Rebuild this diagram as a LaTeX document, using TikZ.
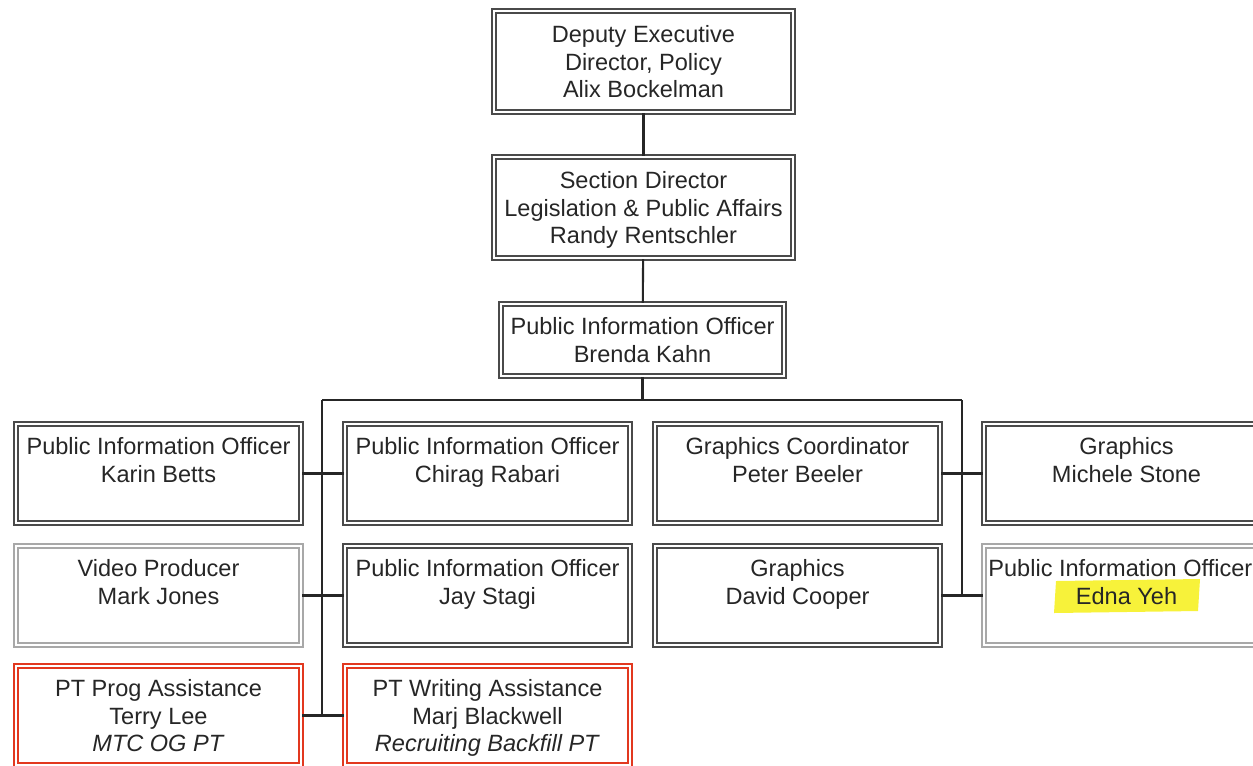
\documentclass[tikz,border=0pt]{standalone}
\usepackage{fontspec}
\setmainfont{Liberation Sans}
\usepackage{tikz}
\usetikzlibrary{positioning}
\usepackage{xcolor}
\definecolor{boxgray}{HTML}{4A4A4A}
\definecolor{palegray}{HTML}{A8A8A8}
\definecolor{ptred}{HTML}{E2381F}
\definecolor{hilite}{HTML}{F7F23A}

\begin{document}
\begin{tikzpicture}[x=0.02cm, y=-0.02cm,
		box/.style={draw=boxgray, double=white, double distance=1.1pt, line width=1.3pt,
			minimum width=5.7cm, minimum height=1.98cm, inner sep=0pt, align=center,
			font=\fontsize{13.4}{15.6}\selectfont, text=black!85, text depth=0pt},
		palebox/.style={box, draw=palegray},
		redbox/.style={box, draw=ptred},
		link/.style={black!85, line width=1.2pt}]
	\useasboundingbox (0,0) rectangle (1253,765);
	\clip (0,0) rectangle (1253,765);
	% top of the chart
	\node[box, minimum width=5.98cm, minimum height=2.02cm] (dep) at (643.5, 61.5) {Deputy Executive\\Director, Policy\\Alix Bockelman};
	\node[box, minimum width=5.98cm, minimum height=2.02cm] (sec) at (643.5, 207.5) {Section Director\\Legislation \& Public Affairs\\Randy Rentschler};
	\node[box, minimum width=5.66cm, minimum height=1.44cm] (pio) at (642.5, 340) {Public Information Officer\\Brenda Kahn};
	\draw[link] (dep) -- (sec);
	\draw[link] (sec) -- (pio);
	% bus lines
	\coordinate (busL) at (322, 400);
	\coordinate (busR) at (962, 400);
	\coordinate (endL) at (322, 714);
	\coordinate (endR) at (962, 595);
	\draw[link] (pio.south) -- (pio.south |- busL);
	\draw[link] (busL) -- (busR);
	\draw[link] (busL) -- (endL);
	\draw[link] (busR) -- (endR);
	% highlighter mark
	\fill[hilite] (1056, 581) -- (1200, 579) -- (1198, 611) -- (1054, 613) -- cycle;
	% staff boxes
	\node[box] (karin) at (158.5, 473.5) {Public Information Officer\\Karin Betts\\\mbox{}};
	\node[box] (chirag) at (487.5, 473.5) {Public Information Officer\\Chirag Rabari\\\mbox{}};
	\node[box] (peter) at (797.5, 473.5) {Graphics Coordinator\\Peter Beeler\\\mbox{}};
	\node[box] (michele) at (1126.5, 473.5) {Graphics\\Michele Stone\\\mbox{}};
	\node[palebox] (mark) at (158.5, 595.5) {Video Producer\\Mark Jones\\\mbox{}};
	\node[box] (jay) at (487.5, 595.5) {Public Information Officer\\Jay Stagi\\\mbox{}};
	\node[box] (david) at (797.5, 595.5) {Graphics\\David Cooper\\\mbox{}};
	\node[palebox] (edna) at (1126.5, 595.5) {\hspace*{-7pt}Public Information Officer\\Edna Yeh\\\mbox{}};
	\node[redbox] (terry) at (158.5, 715.5) {PT Prog Assistance\\Terry Lee\\\textit{MTC OG PT}};
	\node[redbox] (marj) at (487.5, 715.5) {PT Writing Assistance\\Marj Blackwell\\\textit{Recruiting Backfill PT}};
	\draw[link] (karin.east) -- (chirag.west);
	\draw[link] (mark.east) -- (jay.west);
	\draw[link] (terry.east) -- (marj.west);
	\draw[link] (peter.east) -- (michele.west);
	\draw[link] (david.east) -- (edna.west);
\end{tikzpicture}
\end{document}
